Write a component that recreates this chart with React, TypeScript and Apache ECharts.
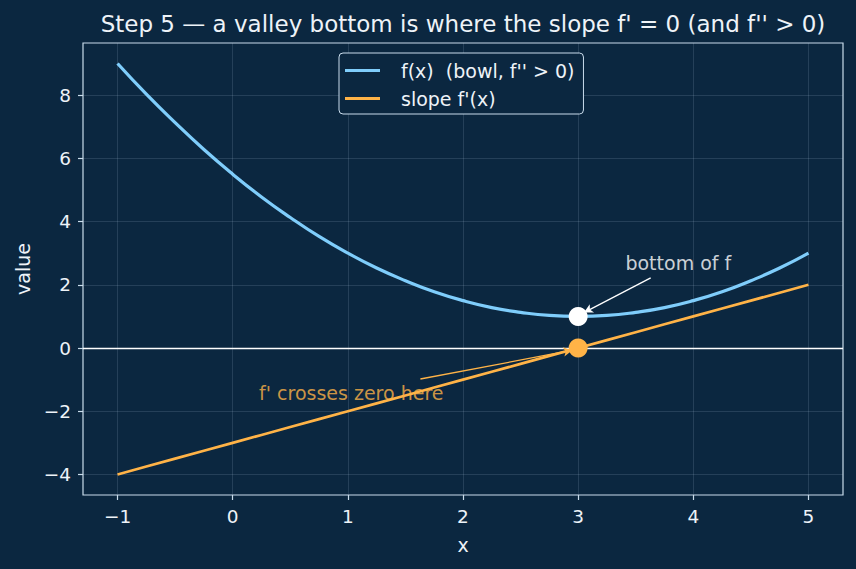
import React, { useEffect, useRef } from "react";
import * as echarts from "echarts";

const xs = [-1, -0.75, -0.5, -0.25, 0, 0.25, 0.5, 0.75, 1, 1.25, 1.5, 1.75, 2, 2.25, 2.5, 2.75, 3, 3.25, 3.5, 3.75, 4, 4.25, 4.5, 4.75, 5];
const fVals = [9, 8.03, 7.13, 6.28, 5.5, 4.78, 4.13, 3.53, 3, 2.53, 2.13, 1.78, 1.5, 1.28, 1.13, 1.03, 1, 1.03, 1.13, 1.28, 1.5, 1.78, 2.13, 2.53, 3];
const slopeVals = [-4, -3.75, -3.5, -3.25, -3, -2.75, -2.5, -2.25, -2, -1.75, -1.5, -1.25, -1, -0.75, -0.5, -0.25, 0, 0.25, 0.5, 0.75, 1, 1.25, 1.5, 1.75, 2];
const xTicks = [-1, 0, 1, 2, 3, 4, 5];
const yTicks = [-4, -2, 0, 2, 4, 6, 8];
const bottomPoint = [3, 1];
const zeroPoint = [3, 0];
const bottomLabel = { text: "bottom of f", at: [3.87, 2.69] };
const bottomArrow = { from: [3.63, 2.22], to: [3.05, 1.12] };
const zeroLabel = { text: "f' crosses zero here", at: [1.03, -1.42] };
const zeroArrow = { from: [1.63, -0.98], to: [2.95, -0.07] };

const BG = "#0b2740";
const BLUE = "#7fcdfb";
const ORANGE = "#ffb347";
const FG = "#eef3f8";
const SPINE = "#c9dcec";
const FONT = "DejaVu Sans";

const fmt = (v: number) => (v < 0 ? "\u2212" + Math.abs(v) : String(v));

export default function App() {
  const ref = useRef<HTMLDivElement>(null);
  useEffect(() => {
    const chart = echarts.init(ref.current!, null, { renderer: "svg" });
    const fData = xs.map((x, i) => [x, fVals[i]]);
    const sData = xs.map((x, i) => [x, slopeVals[i]]);
    chart.setOption({
      animation: false,
      backgroundColor: BG,
      textStyle: { fontFamily: FONT },
      title: {
        text: "Step 5 \u2014 a valley bottom is where the slope f' = 0 (and f'' > 0)",
        left: 463,
        textAlign: "center",
        top: 12,
        padding: 0,
        textStyle: { color: FG, fontSize: 23, fontWeight: "normal", fontFamily: FONT },
      },
      legend: {
        orient: "vertical",
        left: 339,
        top: 53,
        padding: [8, 9, 6, 6],
        itemGap: 9,
        itemWidth: 35,
        itemHeight: 3,
        backgroundColor: BG,
        borderColor: SPINE,
        borderWidth: 1,
        borderRadius: 4,
        textStyle: { color: FG, fontSize: 19, fontFamily: FONT, padding: [0, 0, 0, 16] },
        data: [
          { name: "f(x)  (bowl, f'' > 0)", icon: "rect", itemStyle: { color: BLUE } },
          { name: "slope f'(x)", icon: "rect", itemStyle: { color: ORANGE } },
        ],
      },
      grid: {
        left: 83,
        right: 13,
        top: 43,
        bottom: 74,
        show: true,
        borderColor: SPINE,
        borderWidth: 1.2,
        backgroundColor: "transparent",
      },
      xAxis: {
        type: "value",
        min: -1.3,
        max: 5.3,
        name: "x",
        nameLocation: "middle",
        nameGap: 40,
        nameTextStyle: { color: FG, fontSize: 19, fontFamily: FONT },
        axisLine: { show: false, onZero: false },
        axisTick: { show: true, customValues: xTicks, length: 5, lineStyle: { color: SPINE, width: 1.2 } },
        axisLabel: { customValues: xTicks, color: FG, fontSize: 18.5, fontFamily: FONT, margin: 12, formatter: fmt },
        splitLine: { show: true, lineStyle: { color: "rgba(200,220,240,0.18)", width: 0.8 } },
      },
      yAxis: {
        type: "value",
        min: -4.65,
        max: 9.65,
        name: "value",
        nameLocation: "middle",
        nameGap: 51,
        nameTextStyle: { color: FG, fontSize: 19, fontFamily: FONT },
        axisLine: { show: false, onZero: false },
        axisTick: { show: true, customValues: yTicks, length: 5, lineStyle: { color: SPINE, width: 1.2 } },
        axisLabel: { customValues: yTicks, color: FG, fontSize: 18.5, fontFamily: FONT, margin: 12, formatter: fmt },
        splitLine: { show: true, lineStyle: { color: "rgba(200,220,240,0.18)", width: 0.8 } },
      },
      series: [
        {
          type: "line",
          name: "zero",
          data: [],
          silent: true,
          markLine: {
            silent: true,
            symbol: ["none", "none"],
            label: { show: false },
            lineStyle: { color: "#ffffff", width: 1.3, type: "solid" },
            data: [{ yAxis: 0 }],
          },
          z: 1,
        },
        {
          type: "line",
          name: "f(x)  (bowl, f'' > 0)",
          data: fData,
          smooth: true,
          showSymbol: false,
          lineStyle: { color: BLUE, width: 3.2 },
          itemStyle: { color: BLUE },
          z: 3,
        },
        {
          type: "line",
          name: "slope f'(x)",
          data: sData,
          showSymbol: false,
          lineStyle: { color: ORANGE, width: 2.7 },
          itemStyle: { color: ORANGE },
          z: 3,
        },
        {
          type: "line",
          name: "arrows",
          data: [],
          silent: true,
          markLine: {
            silent: true,
            label: { show: false },
            symbol: ["none", "arrow"],
            symbolSize: [7, 9],
            data: [
              [
                { coord: bottomArrow.from, lineStyle: { color: "#ffffff", width: 1.3, type: "solid" } },
                { coord: bottomArrow.to },
              ],
              [
                { coord: zeroArrow.from, lineStyle: { color: ORANGE, width: 1.3, type: "solid" } },
                { coord: zeroArrow.to },
              ],
            ],
          },
          z: 4,
        },
        {
          type: "scatter",
          name: "points",
          data: [
            { value: bottomPoint, itemStyle: { color: "#ffffff", opacity: 1 } },
            { value: zeroPoint, itemStyle: { color: ORANGE, opacity: 1 } },
          ],
          symbolSize: 19,
          itemStyle: { opacity: 1 },
          z: 5,
        },
        {
          type: "scatter",
          name: "labels",
          symbolSize: 0,
          silent: true,
          data: [
            { value: bottomLabel.at, label: { formatter: bottomLabel.text, color: "#ffffff" } },
            { value: zeroLabel.at, label: { formatter: zeroLabel.text, color: ORANGE } },
          ],
          label: { show: true, position: "inside", fontSize: 19, fontFamily: FONT },
          z: 6,
        },
      ],
    });
    return () => chart.dispose();
  }, []);
  return <div ref={ref} style={{ width: 856, height: 569, position: "absolute", left: 0, top: 0 }} />;
}
